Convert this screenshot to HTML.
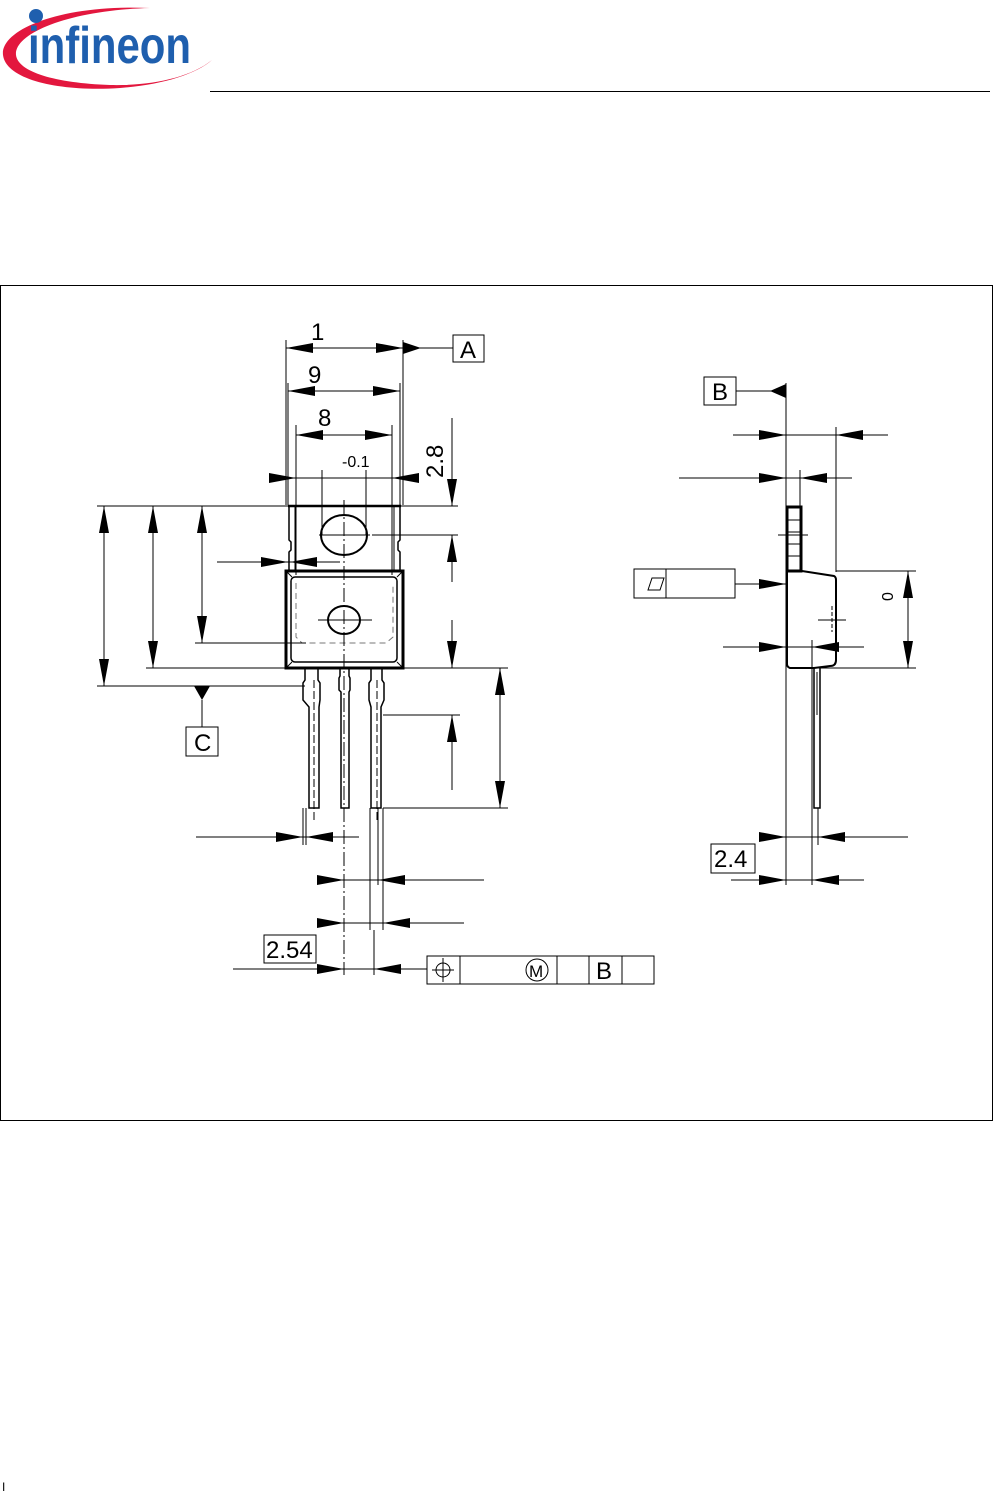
<!DOCTYPE html>
<html><head><meta charset="utf-8"><style>
html,body{margin:0;padding:0;background:#fff}
svg{display:block}
text{font-family:"Liberation Sans",sans-serif;fill:#000}
</style></head><body>
<svg id="s" width="993" height="1498" viewBox="0 0 993 1498" xmlns="http://www.w3.org/2000/svg">
<!-- logo -->
<path d="M150,8 C60,4 0,30 3,55 C6,80 60,92 120,88 C160,85 195,75 212,60 C190,78 150,86 110,85 C55,83 18,72 16,55 C14,33 70,10 150,8 Z" fill="#e3173e"/>
<circle cx="36" cy="16" r="7" fill="#1f5fae"/>
<text x="28" y="63" font-size="52" font-weight="bold" textLength="163" lengthAdjust="spacingAndGlyphs" style="fill:#1f5fae">infineon</text>
<line x1="210" y1="91.5" x2="990" y2="91.5" stroke="#000" stroke-width="1"/>
<rect x="0.5" y="285.5" width="992" height="835" fill="none" stroke="#000" stroke-width="1"/>
<g id="g" stroke="#000" stroke-width="1" fill="none"></g>
<g id="a" fill="#000"></g>
<!-- labels -->
<text x="311" y="340" font-size="24">1</text>
<text x="308" y="383" font-size="24">9</text>
<text x="318" y="426" font-size="24">8</text>
<text x="342" y="467" font-size="16">-0.1</text>
<text transform="translate(443,478) rotate(-90)" font-size="24">2.8</text>
<text x="460" y="358" font-size="24">A</text>
<text x="194" y="751" font-size="24">C</text>
<text x="712" y="400" font-size="24">B</text>
<text x="266" y="958" font-size="24">2.54</text>
<text x="714" y="867" font-size="24">2.4</text>
<text x="596" y="979" font-size="24">B</text>
<text x="529" y="977" font-size="17">M</text>
<text transform="translate(893,601) rotate(-90)" font-size="16">0</text>
<text x="2" y="1491" font-size="12">I</text>
</svg>
<script>
var NS="http://www.w3.org/2000/svg",g=document.getElementById('g'),a=document.getElementById('a');
function el(p,t,at){var e=document.createElementNS(NS,t);for(var k in at)e.setAttribute(k,at[k]);p.appendChild(e);return e;}
function L(x1,y1,x2,y2,w,d){var o={x1:x1,y1:y1,x2:x2,y2:y2};if(w)o['stroke-width']=w;if(d)o['stroke-dasharray']=d;el(g,'line',o);}
function R(x,y,w,h,sw){var o={x:x,y:y,width:w,height:h};if(sw)o['stroke-width']=sw;el(g,'rect',o);}
// arrow: tip at x,y; dir r l u d
function A(x,y,d){var l=27,h=5,p;
 if(d=='r')p=[x,y,x-l,y-h,x-l,y+h];if(d=='l')p=[x,y,x+l,y-h,x+l,y+h];
 if(d=='d')p=[x,y,x-h,y-l,x+h,y-l];if(d=='u')p=[x,y,x-h,y+l,x+h,y+l];
 el(a,'polygon',{points:p.join(',')});}
// front view dims
L(286,340,286,505);L(403,340,403,505);L(286,348,403,348);A(286,348,'l');A(403,348,'r');
L(403,348,453,348);el(a,'polygon',{points:'403,342 421,348 403,354'});R(453,335,31,27);
L(288,383,288,505);L(400,383,400,505);L(288,391,400,391);A(288,391,'l');A(400,391,'r');
L(296,425,296,575);L(392,425,392,575);L(296,435,392,435);A(296,435,'l');A(392,435,'r');
L(271,478,417,478);A(296,478,'r');A(392,478,'l');L(322,470,322,535);L(366,470,366,535);
// tab
L(288,506,401,506,2.5);
el(g,'path',{d:'M289,506 V540 L291,542 V550 L289,552 V571 M400,506 V540 L398,542 V550 L400,552 V571','stroke-width':1.5});
L(295,506,295,571);L(394,506,394,571);
el(g,'ellipse',{cx:344,cy:535,rx:23,ry:20,'stroke-width':2});
// body
R(286,571,117,97,3);el(g,'rect',{x:291,y:577,width:106,height:85,rx:4,ry:4,'stroke-width':1.5});
L(286,571,292,577);L(403,571,397,577);L(286,668,292,662);L(403,668,397,662);
el(g,'path',{d:'M296,583 V637 L302,643 H386 L393,637 V583','stroke-dasharray':'6,4',stroke:'#777'});
el(g,'ellipse',{cx:344,cy:620,rx:16,ry:14,'stroke-width':2});
L(344,500,344,975,1,'14,3,2,3');L(319,535,370,535);L(318,620,372,620);
// left dims
L(97,506,458,506);L(146,668,508,668);L(195,643,306,643);L(97,686,305,686);
L(104,506,104,686);A(104,506,'u');A(104,686,'d');
L(153,506,153,668);A(153,506,'u');A(153,668,'d');
L(202,506,202,643);A(202,506,'u');A(202,643,'d');
el(a,'polygon',{points:'194,686 210,686 202,700'});L(202,700,202,727);R(186,727,32,29);
L(217,562,340,562);A(288,562,'r');A(290,562,'l');
// right dims
L(452,418,452,506);A(452,506,'d');L(452,535,452,582);A(452,535,'u');L(372,535,458,535);
L(452,620,452,668);A(452,668,'d');L(452,715,452,790);A(452,715,'u');L(383,715,460,715);
L(500,668,500,808);A(500,668,'u');A(500,808,'d');L(383,808,508,808);
// leads
el(g,'path',{d:'M305,668 V680 L303,683 V700 L309,707 V808 H319 V707 L320,700 V683 L318,680 V668','stroke-width':1.5});
el(g,'path',{d:'M340,668 V676 L339,678 V690 L341,692 V808 H349 V692 L350,690 V678 L349,676 V668','stroke-width':1.5});
el(g,'path',{d:'M371,668 V680 L369,683 V700 L371,707 V808 H381 V707 L384,700 V683 L382,680 V668','stroke-width':1.5});
L(314,680,314,820,1,'8,3');L(377,680,377,820,1,'8,3');
// lower dims
L(303,808,303,845);L(306,808,306,845);L(196,837,359,837);A(303,837,'r');A(306,837,'l');
L(378,808,378,885);L(318,880,484,880);A(344,880,'r');A(378,880,'l');
L(370,808,370,930);L(383,808,383,930);L(318,923,464,923);A(344,923,'r');A(383,923,'l');
L(374,930,374,975);L(233,969,427,969);A(344,969,'r');A(374,969,'l');R(264,935,52,28);
R(427,956,227,28);L(460,956,460,984);L(557,956,557,984);L(589,956,589,984);L(622,956,622,984);
el(g,'circle',{cx:443,cy:970,r:7});L(432,970,454,970);L(443,958,443,982);
el(g,'circle',{cx:537,cy:970,r:11});
// side view
R(704,377,32,28);L(736,391,786,391);el(a,'polygon',{points:'770,391 786,384 786,398'});
L(786,383,786,885);
L(733,435,888,435);A(786,435,'r');A(836,435,'l');L(836,427,836,572);
L(679,478,852,478);A(786,478,'r');A(800,478,'l');L(800,470,800,506);
R(787,507,14,64,3);L(787,520,801,520);L(787,532,801,532);L(787,544,801,544);L(787,556,801,556);L(778,535,808,535);
el(g,'path',{d:'M787,571 H802 L834,576 Q836,577 836,580 V660 Q836,666 830,666 L814,668 H790 Q787,667 787,664 Z','stroke-width':2});
L(832,606,832,632,1,'4,2');L(818,620,846,620);
R(634,569,101,29);L(666,569,666,598);el(g,'polygon',{points:'648,590 652,578 664,578 660,590'});
L(735,584,786,584);A(786,584,'r');
L(723,647,864,647);A(786,647,'r');A(812,647,'l');L(812,640,812,885);
L(836,571,916,571);L(814,668,916,668);L(908,571,908,668);A(908,571,'u');A(908,668,'d');
el(g,'path',{d:'M814,668 V808 H820 V668','stroke-width':1.5});L(817,672,817,715);
L(760,837,908,837);A(786,837,'r');A(818,837,'l');L(818,808,818,845);
R(711,844,44,29);L(731,880,864,880);A(786,880,'r');A(812,880,'l');
</script>
</body></html>
